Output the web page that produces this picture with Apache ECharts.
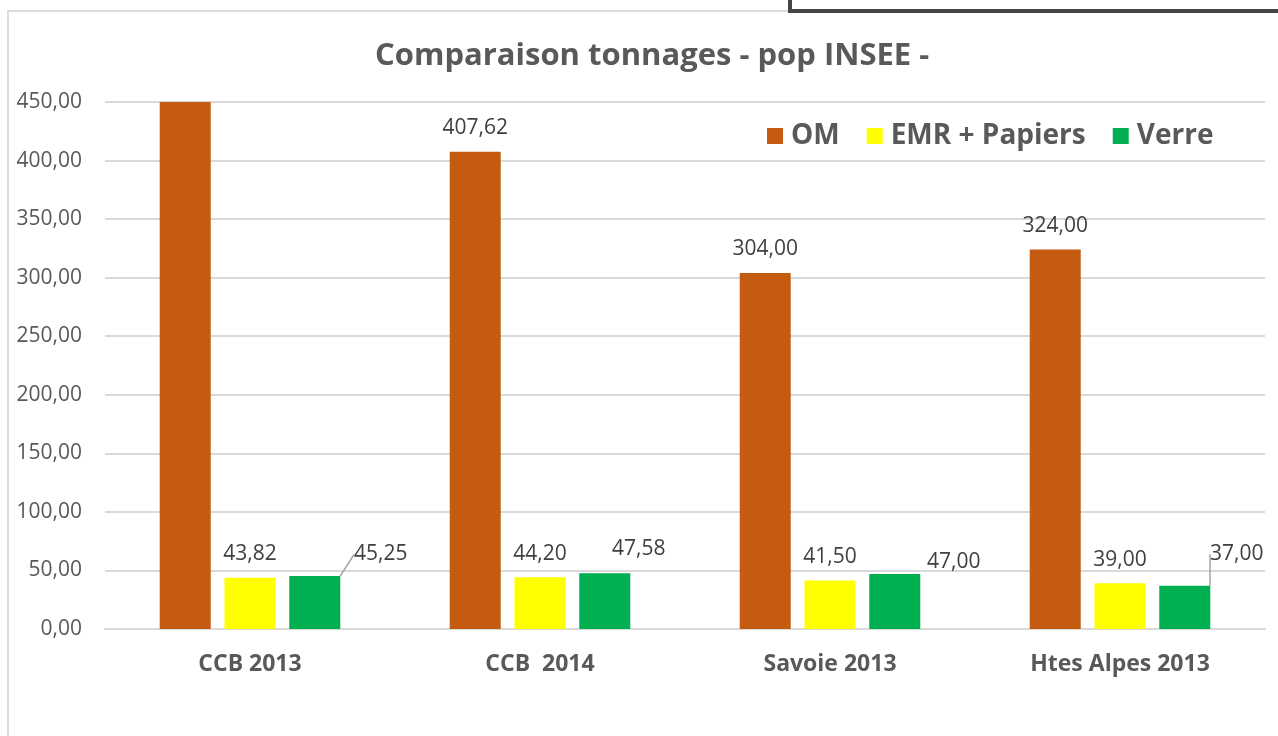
<!DOCTYPE html>
<html>
<head>
<meta charset="utf-8">
<title>Comparaison tonnages - pop INSEE -</title>
<script src="https://cdn.jsdelivr.net/npm/echarts@6/dist/echarts.min.js"></script>
<style>
  html, body { margin: 0; padding: 0; background: #fff; overflow: hidden; }
  #frame {
    position: absolute; left: 7px; top: 10px; width: 1320px; height: 800px;
    border: 2px solid #dcdcdc; box-sizing: border-box;
  }
  #corner {
    position: absolute; left: 788px; top: -100px; width: 600px; height: 113px;
    border: 4px solid #454545; box-sizing: border-box; background: #fff;
  }
  #chart { position: absolute; left: 0; top: 0; width: 1278px; height: 736px; }
</style>
</head>
<body>
<div id="frame"></div>
<div id="corner"></div>
<div id="chart"></div>
<script>
const categories = ['CCB 2013', 'CCB  2014', 'Savoie 2013', 'Htes Alpes 2013'];
const omValues = [450.0, 407.62, 304.0, 324.0];
const emrValues = [43.82, 44.2, 41.5, 39.0];
const verreValues = [45.25, 47.58, 47.0, 37.0];
const yMin = 0;
const yMax = 450;
const yStep = 50;

// Excel moved the Verre labels by hand; these mimic the offsets
const verreShift = [[66, 2], [34, -1], [59, 12], [52, -8]];
const verreLeader = [true, false, false, true];

const fmt = v => v.toFixed(2).replace('.', ',');
const textColor = '#404040';
const axisColor = '#595959';
const font = '"Open Sans", sans-serif';

const labelBase = {
  show: true,
  position: 'top',
  distance: 13,
  color: textColor,
  fontSize: 21,
  fontFamily: font,
  // the clipped bar gets no label, like in Excel
  formatter: p => (p.value >= yMax ? '' : fmt(p.value))
};

const chart = echarts.init(document.getElementById('chart'));
chart.setOption({
  animation: false,
  title: {
    text: 'Comparaison tonnages - pop INSEE -',
    left: 370,
    top: 36,
    textStyle: { color: axisColor, fontSize: 31, fontWeight: 'bold', fontFamily: font }
  },
  legend: {
    left: 762,
    top: 117,
    icon: 'rect',
    itemWidth: 16,
    itemHeight: 16,
    itemGap: 27,
    textStyle: { color: axisColor, fontSize: 28, fontWeight: 'bold', fontFamily: font, padding: [0, 0, 0, 3] },
    data: ['OM', 'EMR + Papiers', 'Verre']
  },
  grid: { left: 105, right: 13, top: 102, bottom: 107 },
  xAxis: {
    type: 'category',
    data: categories,
    axisLine: { lineStyle: { color: '#d9d9d9', width: 2 } },
    axisTick: { show: false },
    axisLabel: { color: axisColor, fontSize: 23, fontWeight: 'bold', fontFamily: font, margin: 24 }
  },
  yAxis: {
    type: 'value',
    min: yMin,
    max: yMax,
    interval: yStep,
    axisLine: { show: false },
    axisTick: { show: false },
    splitLine: { lineStyle: { color: '#d9d9d9', width: 2 } },
    axisLabel: { color: axisColor, fontSize: 21, fontFamily: font, margin: 23, formatter: v => fmt(v) }
  },
  series: [
    {
      name: 'OM',
      type: 'bar',
      barWidth: 51,
      barGap: '27%',
      itemStyle: { color: '#C55A11' },
      label: labelBase,
      data: omValues
    },
    {
      name: 'EMR + Papiers',
      type: 'bar',
      barWidth: 51,
      barGap: '27%',
      itemStyle: { color: '#FFFF00' },
      label: labelBase,
      data: emrValues
    },
    {
      name: 'Verre',
      type: 'bar',
      barWidth: 51,
      barGap: '27%',
      itemStyle: { color: '#00B050' },
      label: labelBase,
      labelLine: { show: false, lineStyle: { color: '#a6a6a6', width: 1.5 } },
      labelLayout: p => ({ dx: verreShift[p.dataIndex][0], dy: verreShift[p.dataIndex][1] }),
      data: verreValues.map((v, i) => ({ value: v, labelLine: { show: verreLeader[i] } }))
    }
  ]
});
</script>
</body>
</html>
